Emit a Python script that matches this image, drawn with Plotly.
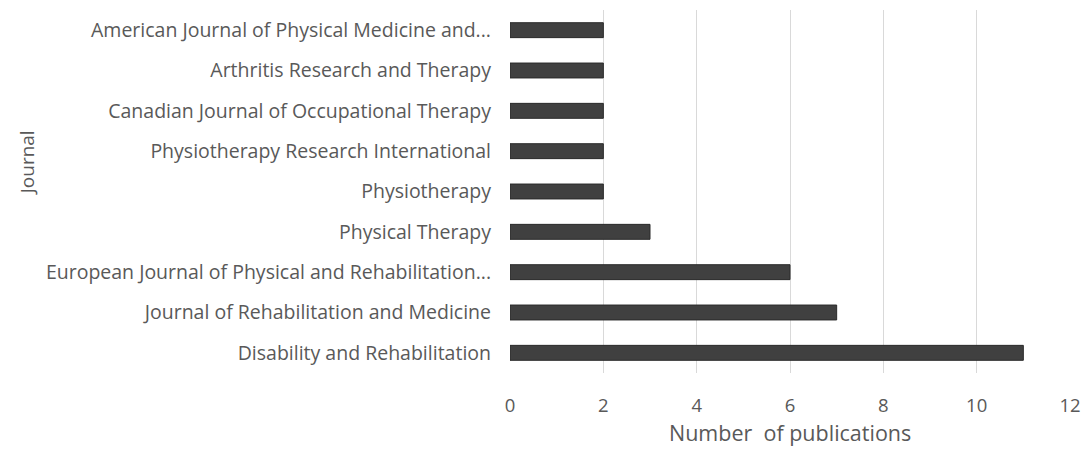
import plotly.graph_objects as go

journals = [
    "American Journal of Physical Medicine and...",
    "Arthritis Research and Therapy",
    "Canadian Journal of Occupational Therapy",
    "Physiotherapy Research International",
    "Physiotherapy",
    "Physical Therapy",
    "European Journal of Physical and Rehabilitation...",
    "Journal of Rehabilitation and Medicine",
    "Disability and Rehabilitation",
]
publications = [2, 2, 2, 2, 2, 3, 6, 7, 11]
x_ticks = [0, 2, 4, 6, 8, 10, 12]

font_family = "Open Sans, Noto Sans, sans-serif"
text_color = "#595959"

fig = go.Figure(
    go.Bar(
        y=journals,
        x=publications,
        orientation="h",
        marker=dict(color="#404040", line=dict(color="#2a2a2a", width=1)),
        width=0.37,
    )
)

fig.update_layout(
    width=1091,
    height=449,
    margin=dict(l=510, r=12, t=10, b=76),
    paper_bgcolor="white",
    plot_bgcolor="white",
    showlegend=False,
    font=dict(family=font_family, color=text_color, size=15),
    xaxis=dict(
        range=[0, 12],
        tickvals=x_ticks,
        showgrid=True,
        gridcolor="#d9d9d9",
        gridwidth=1,
        zeroline=False,
        showline=False,
        ticks="",
        ticklabelstandoff=19,
        tickfont=dict(size=18.5, color=text_color),
    ),
    yaxis=dict(
        autorange="reversed",
        showgrid=False,
        zeroline=False,
        showline=False,
        ticks="",
        ticklabelstandoff=18,
        tickfont=dict(size=19.5, color=text_color),
    ),
    annotations=[
        dict(
            text="Number  of publications",
            xref="paper", yref="paper",
            x=0.5, y=-0.163,
            xanchor="center", yanchor="middle",
            showarrow=False,
            font=dict(size=21.5, color=text_color, family=font_family),
        ),
        dict(
            text="Journal",
            xref="paper", yref="paper",
            x=-0.861,
            y=0.58,
            xanchor="center", yanchor="middle",
            textangle=-90,
            showarrow=False,
            font=dict(size=19, color=text_color, family=font_family),
        ),
    ],
)

fig.write_html("out.html")
